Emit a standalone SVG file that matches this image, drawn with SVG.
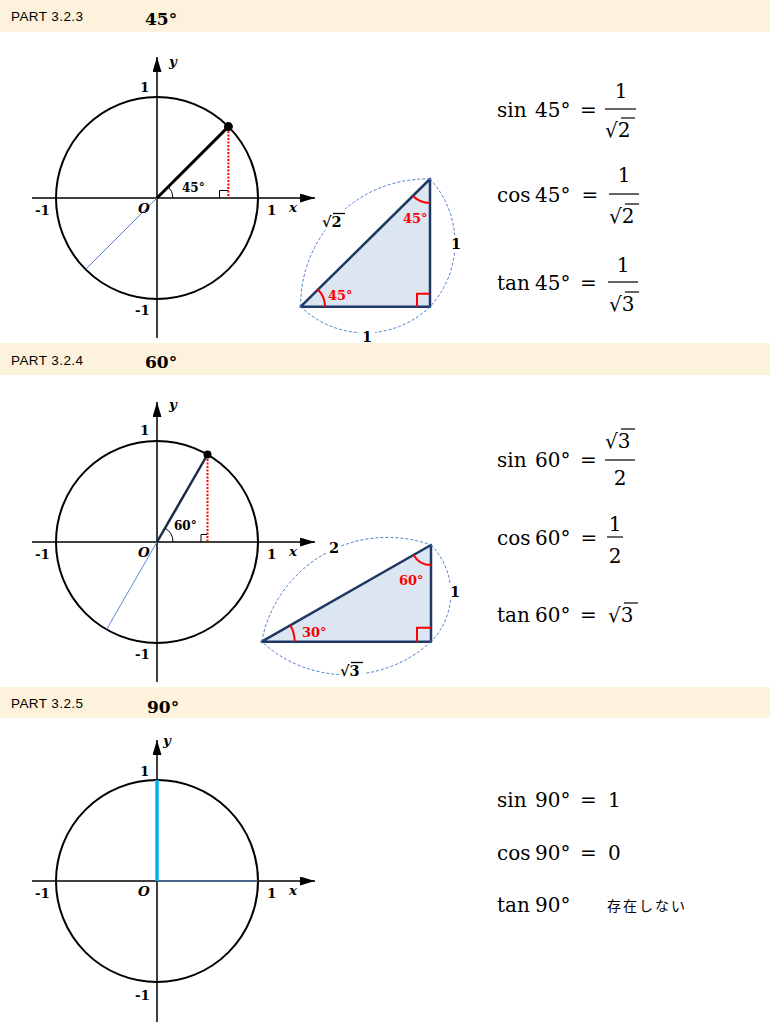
<svg xmlns="http://www.w3.org/2000/svg" width="770" height="1024" viewBox="0 0 770 1024">
<style>
.band{fill:#fdf3dc}
.part{font-family:"Liberation Sans","Open Sans",sans-serif;font-size:13.5px;fill:#000}
.head{font-family:"DejaVu Serif",serif;font-weight:bold;font-size:17px;fill:#000}
.ax{stroke:#000;stroke-width:1.5;fill:none}
.circ{stroke:#000;stroke-width:2;fill:none}
.lbl{font-family:"DejaVu Serif",serif;font-weight:bold;font-size:13.5px;fill:#000}
.it{font-style:italic}
.ang{font-family:"DejaVu Serif",serif;font-weight:bold;font-size:12px;fill:#000}
.rl{font-family:"DejaVu Serif",serif;font-weight:bold;font-size:13px;fill:#ff0000}
.sl{font-family:"DejaVu Serif",serif;font-weight:bold;font-size:14.5px;fill:#000}
.tri{fill:#dce6f2;stroke:#1f3864;stroke-width:2.5;stroke-linejoin:round}
.dash{fill:none;stroke:#4a7bd0;stroke-width:1;stroke-dasharray:3 2}
.rarc{fill:none;stroke:#ff0000;stroke-width:2}
.f{font-family:"DejaVu Serif",serif;font-size:20px;fill:#000}
.bar{stroke:#000;stroke-width:1.2}
.thin{stroke:#5b8ad8;stroke-width:1}
.dot{stroke:#ff0000;stroke-width:2;stroke-dasharray:2 1.5}
.wb{fill:#fff}
.rm{fill:none;stroke:#000;stroke-width:1}
.jp{font-family:"Noto Sans CJK JP",sans-serif;font-size:14px;fill:#000}
</style>
<defs>
<marker id="arr" viewBox="0 0 15 9" markerWidth="15" markerHeight="9" refX="15" refY="4.5" orient="auto" markerUnits="userSpaceOnUse">
<path d="M0,0 L15,4.5 L0,9 z" fill="#000"/>
</marker>
</defs>

<!-- Section 1 -->
<g id="header1">
<rect class="band" x="0" y="0" width="770" height="32"/>
<text class="part" x="11" y="21" textLength="72">PART 3.2.3</text>
<text class="head" x="145" y="25">45°</text>
</g>
<g id="circle1" transform="translate(157,198)">
<circle class="circ" cx="0" cy="0" r="101"/>
<g id="axes1">
<line class="ax" x1="-125" y1="0" x2="158" y2="0" marker-end="url(#arr)"/>
<line class="ax" x1="0" y1="140" x2="0" y2="-141" marker-end="url(#arr)"/>
</g>
<line class="thin" x1="0" y1="0" x2="-71.4" y2="71.4"/>
<line x1="0" y1="0" x2="71.4" y2="-71.4" stroke="#000" stroke-width="3"/>
<line class="dot" x1="71.4" y1="-67" x2="71.4" y2="0"/>
<polyline class="rm" points="62.5,0 62.5,-7.5 71,-7.5"/>
<path class="rm" d="M16,0 A16,16 0 0 0 11.3,-11.3"/>
<circle cx="71.4" cy="-71.4" r="4.5" fill="#000"/>
<text class="ang" x="25" y="-6">45°</text>
<text class="lbl it" x="12" y="-132">y</text>
<text class="lbl" x="-17" y="-106">1</text>
<text class="lbl" x="-122" y="17">-1</text>
<text class="lbl it" x="-19" y="14.5">O</text>
<text class="lbl" x="110" y="17">1</text>
<text class="lbl it" x="132" y="14">x</text>
<text class="lbl" x="-22" y="117">-1</text>
</g>
<g id="triangle1">
<polygon class="tri" points="300.7,306.7 430,306.7 430,179"/>
<path class="dash" d="M300.7,306.7 A126,126 0 0 1 430,179"/>
<path class="dash" d="M430,179 A94,94 0 0 1 430,306.7"/>
<path class="dash" d="M430,306.7 A93,93 0 0 1 300.7,306.7"/>
<path class="rarc" d="M325,306.7 A24.3,24.3 0 0 0 317.9,289.5"/>
<path class="rarc" d="M430,203 A24,24 0 0 1 413,196"/>
<polyline class="rarc" points="417,306.7 417,293.7 430,293.7"/>
<text class="rl" x="328" y="300">45°</text>
<text class="rl" x="403" y="223">45°</text>
<rect class="wb" x="321" y="209" width="26" height="21"/>
<text class="sl" x="322" y="227">√2</text>
<line x1="333" y1="213.5" x2="345" y2="213.5" stroke="#000" stroke-width="1.3"/>
<rect class="wb" x="450" y="235" width="12" height="17"/>
<text class="sl" x="451" y="249">1</text>
<rect class="wb" x="359" y="328" width="16" height="15"/>
<text class="sl" x="362" y="342">1</text>
</g>
<g id="formulas1">
<text class="f" y="117"><tspan x="497">sin</tspan><tspan x="535">45°</tspan></text>
<text class="f" x="588.5" y="117" text-anchor="middle">=</text>
<text class="f" x="621" y="98" text-anchor="middle">1</text>
<line class="bar" x1="605" y1="109" x2="636" y2="109"/>
<text class="f" x="605" y="137">√2</text>
<line class="bar" x1="621" y1="118" x2="635" y2="118"/>

<text class="f" y="202"><tspan x="497">cos</tspan><tspan x="535">45°</tspan></text>
<text class="f" x="590" y="202" text-anchor="middle">=</text>
<text class="f" x="624" y="182" text-anchor="middle">1</text>
<line class="bar" x1="609" y1="194" x2="639" y2="194"/>
<text class="f" x="609" y="223">√2</text>
<line class="bar" x1="625" y1="204" x2="639" y2="204"/>

<text class="f" y="290"><tspan x="497">tan</tspan><tspan x="535">45°</tspan></text>
<text class="f" x="588.5" y="290" text-anchor="middle">=</text>
<text class="f" x="623" y="272" text-anchor="middle">1</text>
<line class="bar" x1="608" y1="282" x2="638" y2="282"/>
<text class="f" x="609" y="311">√3</text>
<line class="bar" x1="625" y1="292" x2="639" y2="292"/>
</g>

<!-- Section 2 -->
<g id="header2">
<rect class="band" x="0" y="343" width="770" height="32"/>
<text class="part" x="11" y="365" textLength="72">PART 3.2.4</text>
<text class="head" x="145" y="368">60°</text>
</g>
<g id="circle2" transform="translate(157,542)">
<circle class="circ" cx="0" cy="0" r="101"/>
<g id="axes2">
<line class="ax" x1="-125" y1="0" x2="158" y2="0" marker-end="url(#arr)"/>
<line class="ax" x1="0" y1="140" x2="0" y2="-140" marker-end="url(#arr)"/>
</g>
<line class="thin" x1="0" y1="0" x2="-50.5" y2="87.5"/>
<line x1="0" y1="0" x2="50.5" y2="-87.5" stroke="#1c2a4a" stroke-width="2.5"/>
<line class="dot" x1="50.5" y1="-83" x2="50.5" y2="0"/>
<polyline class="rm" points="44,0 44,-7.5 50,-7.5"/>
<path class="rm" d="M16,0 A16,16 0 0 0 8,-13.86"/>
<circle cx="50.5" cy="-87.5" r="4" fill="#000"/>
<text class="ang" x="17" y="-12">60°</text>
<text class="lbl it" x="12" y="-133">y</text>
<text class="lbl" x="-17" y="-107">1</text>
<text class="lbl" x="-122" y="17">-1</text>
<text class="lbl it" x="-19" y="15">O</text>
<text class="lbl" x="110" y="17">1</text>
<text class="lbl it" x="132" y="14">x</text>
<text class="lbl" x="-22" y="117">-1</text>
</g>
<g id="triangle2">
<polygon class="tri" points="261.7,641.7 431,641.7 431,545"/>
<path class="dash" d="M261.7,641.7 A128,128 0 0 1 431,545"/>
<path class="dash" d="M431,545 A69,69 0 0 1 431,641.7"/>
<path class="dash" d="M431,641.7 A125,125 0 0 1 261.7,641.7"/>
<path class="rarc" d="M294.7,641.7 A33,33 0 0 0 290.3,625.2"/>
<path class="rarc" d="M431,565 A20,20 0 0 1 413.6,554.9"/>
<polyline class="rarc" points="417,641.7 417,627.7 431,627.7"/>
<text class="rl" x="399" y="585">60°</text>
<text class="rl" x="302" y="637">30°</text>
<rect class="wb" x="327" y="538" width="14" height="17"/>
<text class="sl" x="329" y="553">2</text>
<rect class="wb" x="448" y="583" width="12" height="17"/>
<text class="sl" x="450" y="597">1</text>
<rect class="wb" x="339" y="660" width="26" height="20"/>
<text class="sl" x="340" y="676">√3</text>
<line x1="351" y1="662.5" x2="363" y2="662.5" stroke="#000" stroke-width="1.3"/>
</g>
<g id="formulas2">
<text class="f" y="467"><tspan x="497">sin</tspan><tspan x="535">60°</tspan></text>
<text class="f" x="588.5" y="467" text-anchor="middle">=</text>
<text class="f" x="605" y="448">√3</text>
<line class="bar" x1="621" y1="429" x2="635" y2="429"/>
<line class="bar" x1="605" y1="460" x2="635" y2="460"/>
<text class="f" x="620" y="485" text-anchor="middle">2</text>

<text class="f" y="545"><tspan x="497">cos</tspan><tspan x="535">60°</tspan></text>
<text class="f" x="589" y="545" text-anchor="middle">=</text>
<text class="f" x="615" y="531" text-anchor="middle">1</text>
<line class="bar" x1="607" y1="537" x2="623" y2="537"/>
<text class="f" x="615" y="563" text-anchor="middle">2</text>

<text class="f" y="622"><tspan x="497">tan</tspan><tspan x="535">60°</tspan></text>
<text class="f" x="588.5" y="622" text-anchor="middle">=</text>
<text class="f" x="608" y="622">√3</text>
<line class="bar" x1="624" y1="603" x2="638" y2="603"/>
</g>

<!-- Section 3 -->
<g id="header3">
<rect class="band" x="0" y="687" width="770" height="31"/>
<text class="part" x="11" y="708" textLength="72">PART 3.2.5</text>
<text class="head" x="147" y="713">90°</text>
</g>
<g id="circle3" transform="translate(157,881)">
<circle class="circ" cx="0" cy="0" r="101"/>
<g id="axes3">
<line class="ax" x1="-125" y1="0" x2="158" y2="0" marker-end="url(#arr)"/>
<line class="ax" x1="0" y1="141" x2="0" y2="-141" marker-end="url(#arr)"/>
</g>
<line class="thin" x1="0" y1="0" x2="101" y2="0"/>
<line x1="0" y1="0" x2="0" y2="-101" stroke="#00b0f0" stroke-width="3.5"/>
<text class="lbl it" x="6" y="-136">y</text>
<text class="lbl" x="-17" y="-105">1</text>
<text class="lbl" x="-122" y="17">-1</text>
<text class="lbl it" x="-19" y="15">O</text>
<text class="lbl" x="110" y="17">1</text>
<text class="lbl it" x="132" y="14">x</text>
<text class="lbl" x="-22" y="119">-1</text>
</g>
<g id="formulas3">
<text class="f" y="807"><tspan x="497">sin</tspan><tspan x="535">90°</tspan></text>
<text class="f" x="588.5" y="807" text-anchor="middle">=</text>
<text class="f" x="608" y="807">1</text>
<text class="f" y="860"><tspan x="497">cos</tspan><tspan x="535">90°</tspan></text>
<text class="f" x="588.5" y="860" text-anchor="middle">=</text>
<text class="f" x="608" y="860">0</text>
<text class="f" y="912"><tspan x="497">tan</tspan><tspan x="535">90°</tspan></text>
<text class="jp" x="607" y="911" textLength="78" lengthAdjust="spacing">存在しない</text>
</g>
</svg>
